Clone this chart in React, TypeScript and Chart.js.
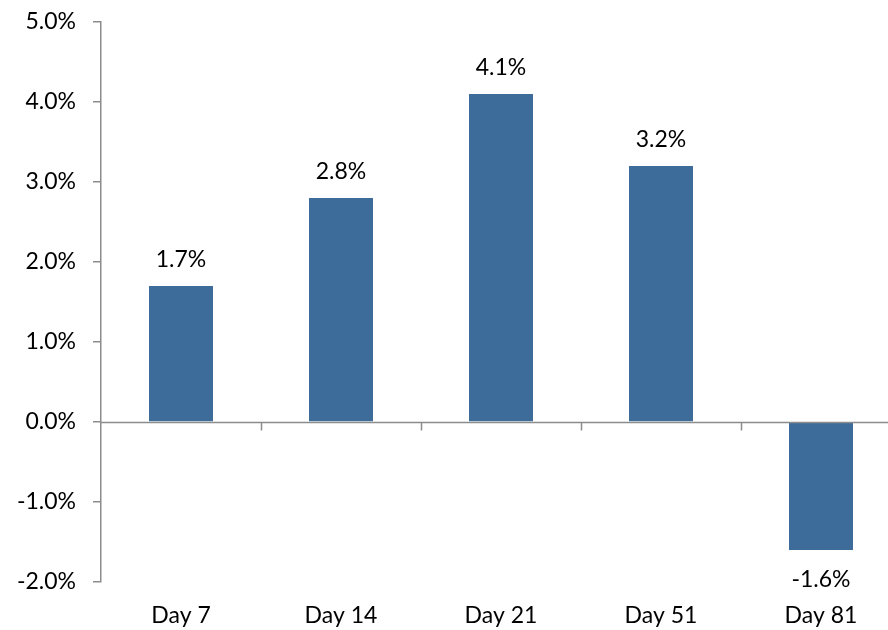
import React, { useEffect, useRef } from "react";
import { Chart, registerables } from "chart.js";

Chart.register(...registerables);

const categories = ["Day 7", "Day 14", "Day 21", "Day 51", "Day 81"];
const returns = [1.7, 2.8, 4.1, 3.2, -1.6];
const yMin = -2;
const yMax = 5;
const yStep = 1;

const FONT = "Lato";
const FONT_SIZE = 23;
const AXIS_COLOR = "#8c8c8c";
const BAR_COLOR = "#3d6b9a";

const fmtPct = (v: number) => `${v.toFixed(1)}%`;

// Zero baseline with category-boundary tick marks hanging below it
const zeroLinePlugin = {
  id: "zeroLine",
  afterDatasetsDraw(chart: any) {
    const { ctx, chartArea, scales } = chart;
    const x = scales.x;
    const y0 = Math.round(scales.y.getPixelForValue(0)) + 0.5;
    ctx.save();
    ctx.strokeStyle = AXIS_COLOR;
    ctx.lineWidth = 1.5;
    ctx.beginPath();
    ctx.moveTo(chartArea.left, y0);
    ctx.lineTo(chartArea.right, y0);
    for (let i = 1; i < categories.length; i++) {
      const bx = Math.round((x.getPixelForValue(i - 1) + x.getPixelForValue(i)) / 2) + 0.5;
      ctx.moveTo(bx, y0);
      ctx.lineTo(bx, y0 + 8);
    }
    ctx.stroke();
    ctx.restore();
  },
};

// Value labels above positive bars, below negative ones
const valueLabelPlugin = {
  id: "valueLabels",
  afterDatasetsDraw(chart: any) {
    const { ctx } = chart;
    const meta = chart.getDatasetMeta(0);
    ctx.save();
    ctx.fillStyle = "#000";
    ctx.font = `${FONT_SIZE}px ${FONT}`;
    ctx.textAlign = "center";
    ctx.textBaseline = "middle";
    meta.data.forEach((bar: any, i: number) => {
      const v = returns[i];
      const y = v >= 0 ? bar.y - 26 : bar.y + 30;
      ctx.fillText(fmtPct(v), bar.x, y);
    });
    ctx.restore();
  },
};

export default function App() {
  const canvasRef = useRef<HTMLCanvasElement | null>(null);

  useEffect(() => {
    if (!canvasRef.current) return;
    const chart = new Chart(canvasRef.current, {
      type: "bar",
      data: {
        labels: categories,
        datasets: [
          {
            data: returns,
            backgroundColor: BAR_COLOR,
            barPercentage: 0.4,
            categoryPercentage: 1,
          },
        ],
      },
      options: {
        responsive: false,
        animation: false,
        devicePixelRatio: 1,
        layout: { padding: { left: 0, right: 0, top: 22, bottom: 0 } },
        plugins: { legend: { display: false }, tooltip: { enabled: false } },
        scales: {
          x: {
            grid: { display: false, drawTicks: false },
            border: { display: false },
            ticks: {
              color: "#000",
              font: { family: FONT, size: FONT_SIZE },
              padding: 20,
              maxRotation: 0,
            },
            afterFit: (s: any) => {
              s.height = 48;
              s.paddingLeft = 0;
              s.paddingRight = 0;
            },
          },
          y: {
            min: yMin,
            max: yMax,
            grid: {
              drawOnChartArea: false,
              drawTicks: true,
              tickLength: 8,
              color: AXIS_COLOR,
              lineWidth: 1.5,
            },
            border: { display: true, color: AXIS_COLOR, width: 1.5 },
            ticks: {
              stepSize: yStep,
              color: "#000",
              font: { family: FONT, size: FONT_SIZE },
              padding: 17,
              callback: (v: any) => fmtPct(Number(v)),
            },
            afterFit: (s: any) => {
              s.width = 101;
              s.paddingTop = 0;
              s.paddingBottom = 0;
            },
          },
        },
      },
      plugins: [zeroLinePlugin, valueLabelPlugin],
    });
    return () => chart.destroy();
  }, []);

  return (
    <div
      style={{
        position: "fixed",
        left: 0,
        top: 0,
        width: 888,
        height: 630,
        overflow: "hidden",
        background: "#fff",
      }}
    >
      <canvas ref={canvasRef} width={901} height={630} />
    </div>
  );
}
